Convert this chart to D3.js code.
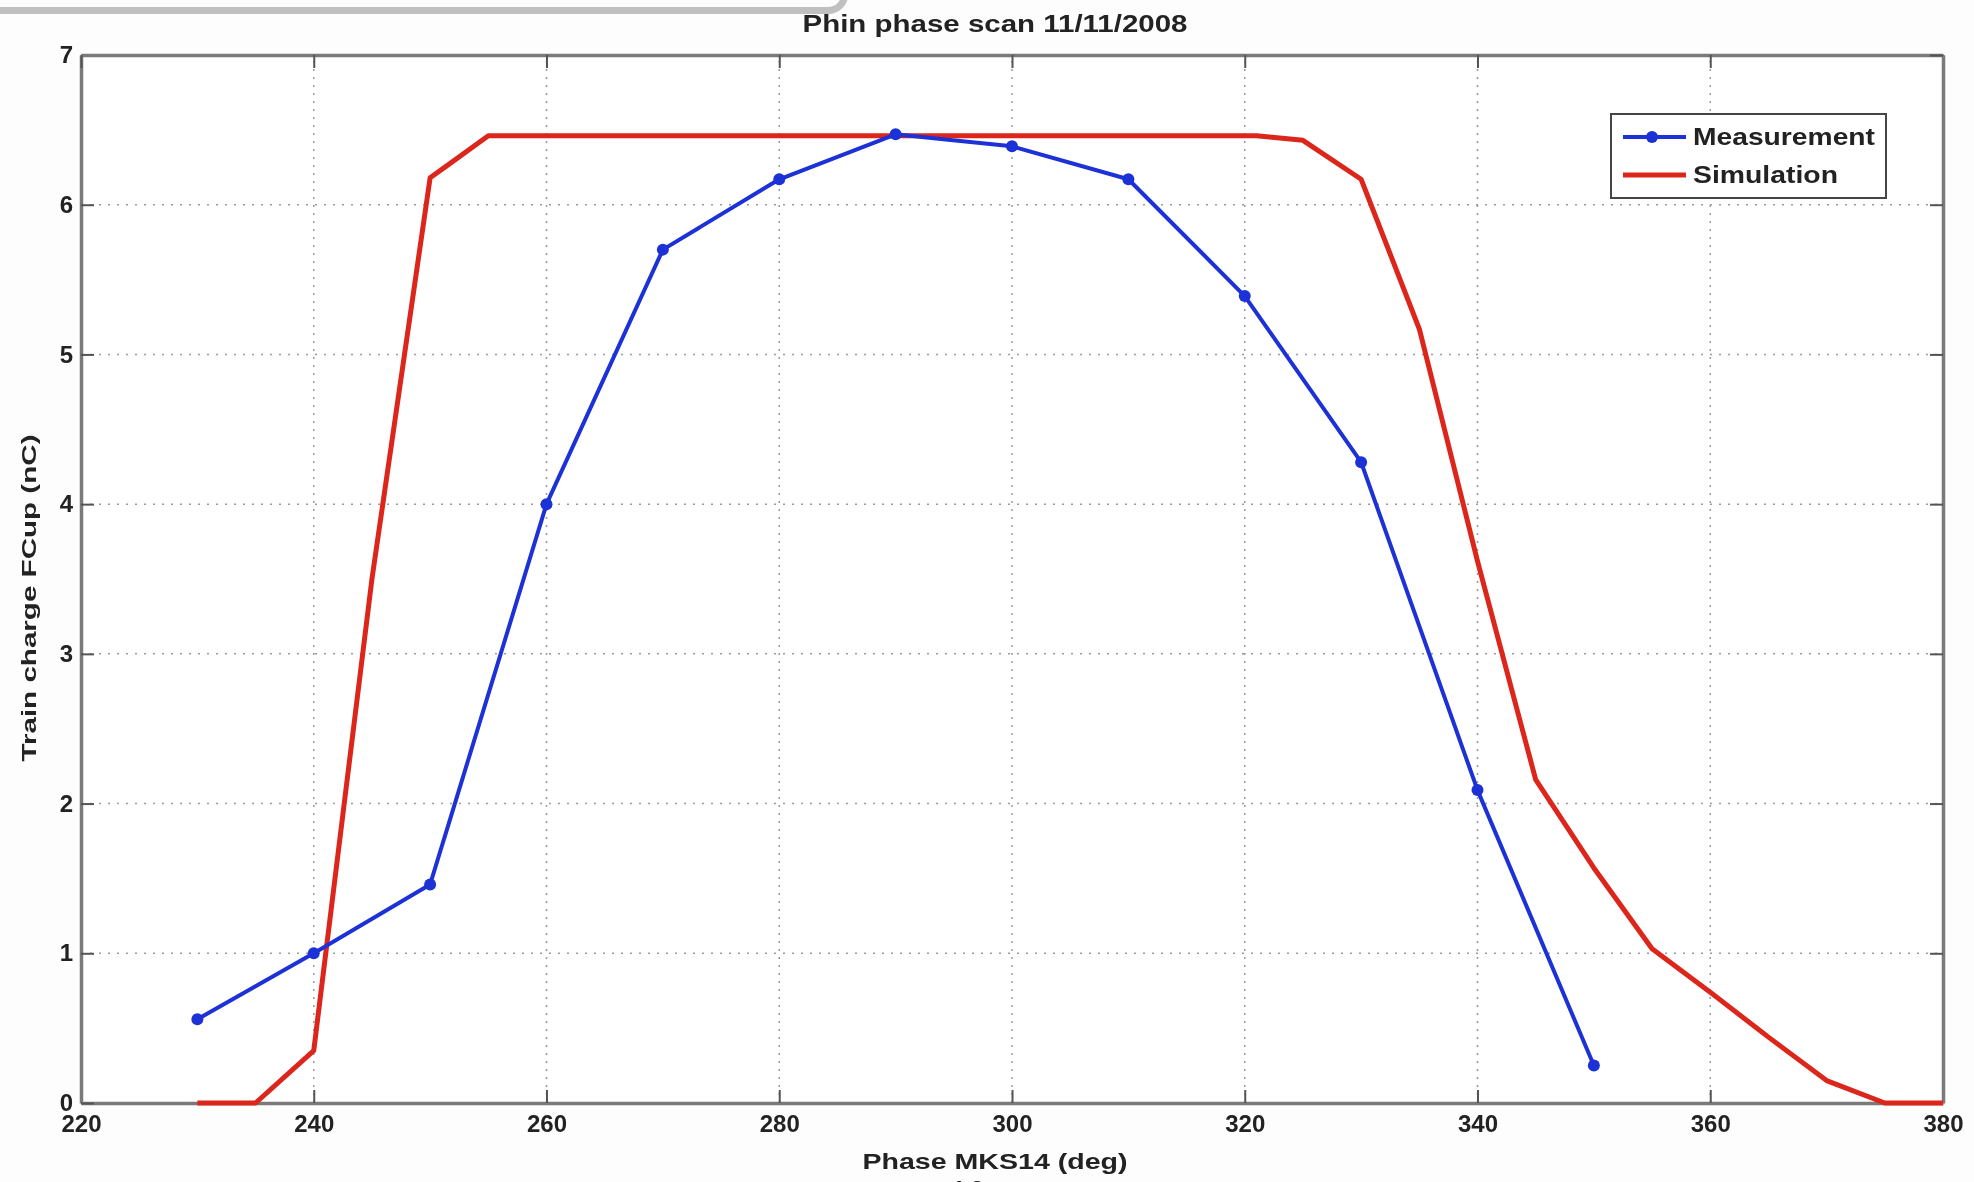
<!DOCTYPE html>
<html>
<head>
<meta charset="utf-8">
<script src="https://cdn.jsdelivr.net/npm/d3@7"></script>
<style>
    body { margin: 0; background: #fdfdfd; }
    text { font-family: "Liberation Sans", Arial, sans-serif; font-weight: bold; fill: #222; }
</style>
</head>
<body>
<svg id="chart" width="1974" height="1182"></svg>
<script>
// values
var phaseMeas = [230, 240, 250, 260, 270, 280, 290, 300, 310, 320, 330, 340, 350];
var chargeMeas = [0.56, 1.0, 1.46, 4.0, 5.7, 6.17, 6.47, 6.39, 6.17, 5.39, 4.28, 2.09, 0.25];

var phaseSim = [230, 235, 240, 245, 250, 255, 321, 325, 330, 335, 340, 345, 350, 355, 360, 365, 370, 375, 380];
var chargeSim = [0, 0, 0.35, 3.5, 6.18, 6.46, 6.46, 6.43, 6.17, 5.17, 3.62, 2.16, 1.57, 1.03, 0.74, 0.44, 0.15, 0, 0];

var xTicks = [220, 240, 260, 280, 300, 320, 340, 360, 380];
var yTicks = [0, 1, 2, 3, 4, 5, 6, 7];

var seriesNames = ["Measurement", "Simulation"];
var seriesColors = ["#1c30d6", "#dc261c"];

var svg = d3.select("#chart");

var defs = svg.append("defs");
defs.append("filter").attr("id", "soft")
    .append("feGaussianBlur").attr("stdDeviation", 0.6);

var x = d3.scaleLinear().domain([220, 380]).range([81, 1943]);
var y = d3.scaleLinear().domain([0, 7]).range([1103, 55]);

var root = svg.append("g").attr("filter", "url(#soft)");

// window frame remnant at the top
root.append("path")
    .attr("d", "M0,10.5 H828 A17,17 0 0 0 845,-6")
    .attr("fill", "none")
    .attr("stroke", "#c0c0c0")
    .attr("stroke-width", 7);

// plot background
root.append("rect")
    .attr("x", x(220)).attr("y", y(7))
    .attr("width", x(380) - x(220)).attr("height", y(0) - y(7))
    .attr("fill", "#fff");

// grid
root.append("g").selectAll("line")
    .data(xTicks.slice(1, -1))
    .join("line")
    .attr("x1", d => x(d)).attr("x2", d => x(d))
    .attr("y1", y(0)).attr("y2", y(7))
    .attr("stroke", "#9a9a9a").attr("stroke-width", 1.5)
    .attr("stroke-dasharray", "2,6");
root.append("g").selectAll("line")
    .data(yTicks.slice(1, -1))
    .join("line")
    .attr("x1", x(220)).attr("x2", x(380))
    .attr("y1", d => y(d)).attr("y2", d => y(d))
    .attr("stroke", "#9a9a9a").attr("stroke-width", 1.5)
    .attr("stroke-dasharray", "2,7");

// axes (ticks inside, box on)
var fmt = d3.format("d");
var ax = root.append("g").attr("transform", "translate(0," + y(0) + ")")
    .call(d3.axisBottom(x).tickValues(xTicks).tickFormat(fmt).tickSizeInner(-13).tickSizeOuter(0).tickPadding(12));
var ay = root.append("g").attr("transform", "translate(" + x(220) + ",0)")
    .call(d3.axisLeft(y).tickValues(yTicks).tickFormat(fmt).tickSizeInner(-13).tickSizeOuter(0).tickPadding(8));
var at = root.append("g").attr("transform", "translate(0," + y(7) + ")")
    .call(d3.axisTop(x).tickValues(xTicks).tickSizeInner(-13).tickSizeOuter(0).tickFormat(""));
var ar = root.append("g").attr("transform", "translate(" + x(380) + ",0)")
    .call(d3.axisRight(y).tickValues(yTicks).tickSizeInner(-13).tickSizeOuter(0).tickFormat(""));

[ax, ay, at, ar].forEach(function (g) {
    g.select(".domain").attr("stroke", "#7a7a7a").attr("stroke-width", 3.5);
    g.selectAll(".tick line").attr("stroke", "#555").attr("stroke-width", 2);
    g.selectAll(".tick text").attr("font-size", 24).attr("fill", "#222")
        .style("font-family", "'Liberation Sans', Arial, sans-serif").style("font-weight", "bold");
});

// simulation line
var line = d3.line().x(d => x(d[0])).y(d => y(d[1]));
root.append("path")
    .datum(d3.zip(phaseSim, chargeSim))
    .attr("d", line)
    .attr("fill", "none")
    .attr("stroke", seriesColors[1])
    .attr("stroke-width", 5)
    .attr("stroke-linejoin", "round");

// measurement line + markers
var meas = d3.zip(phaseMeas, chargeMeas);
root.append("path")
    .datum(meas)
    .attr("d", line)
    .attr("fill", "none")
    .attr("stroke", seriesColors[0])
    .attr("stroke-width", 4)
    .attr("stroke-linejoin", "round");
root.append("g").selectAll("circle")
    .data(meas)
    .join("circle")
    .attr("cx", d => x(d[0]))
    .attr("cy", d => y(d[1]))
    .attr("r", 6)
    .attr("fill", seriesColors[0]);

// legend
var leg = root.append("g");
leg.append("rect")
    .attr("x", 1611).attr("y", 114)
    .attr("width", 275).attr("height", 84)
    .attr("fill", "#fff")
    .attr("stroke", "#444").attr("stroke-width", 2);
var rows = [137, 175];
seriesNames.forEach(function (name, i) {
    leg.append("line")
        .attr("x1", 1623).attr("x2", 1686)
        .attr("y1", rows[i]).attr("y2", rows[i])
        .attr("stroke", seriesColors[i]).attr("stroke-width", i ? 5 : 4);
    if (i === 0) {
        leg.append("circle").attr("cx", 1652).attr("cy", rows[i]).attr("r", 6).attr("fill", seriesColors[i]);
    }
    leg.append("text")
        .attr("x", 1693).attr("y", rows[i] + 8)
        .attr("font-size", 24)
        .attr("textLength", i ? 145 : 182)
        .attr("lengthAdjust", "spacingAndGlyphs")
        .text(name);
});

// titles
root.append("text")
    .attr("x", 995).attr("y", 32)
    .attr("text-anchor", "middle")
    .attr("font-size", 24)
    .attr("textLength", 385).attr("lengthAdjust", "spacingAndGlyphs")
    .text("Phin phase scan 11/11/2008");

root.append("text")
    .attr("x", 995).attr("y", 1169)
    .attr("text-anchor", "middle")
    .attr("font-size", 22)
    .attr("textLength", 265).attr("lengthAdjust", "spacingAndGlyphs")
    .text("Phase MKS14 (deg)");

// caption line below, mostly outside the window as in the reference
root.append("text")
    .attr("x", 968).attr("y", 1196)
    .attr("text-anchor", "middle")
    .attr("font-size", 22)
    .text("1.2");

root.append("text")
    .attr("transform", "translate(36,598) rotate(-90)")
    .attr("text-anchor", "middle")
    .attr("font-size", 21)
    .attr("textLength", 327).attr("lengthAdjust", "spacingAndGlyphs")
    .text("Train charge FCup (nC)");
</script>
</body>
</html>
